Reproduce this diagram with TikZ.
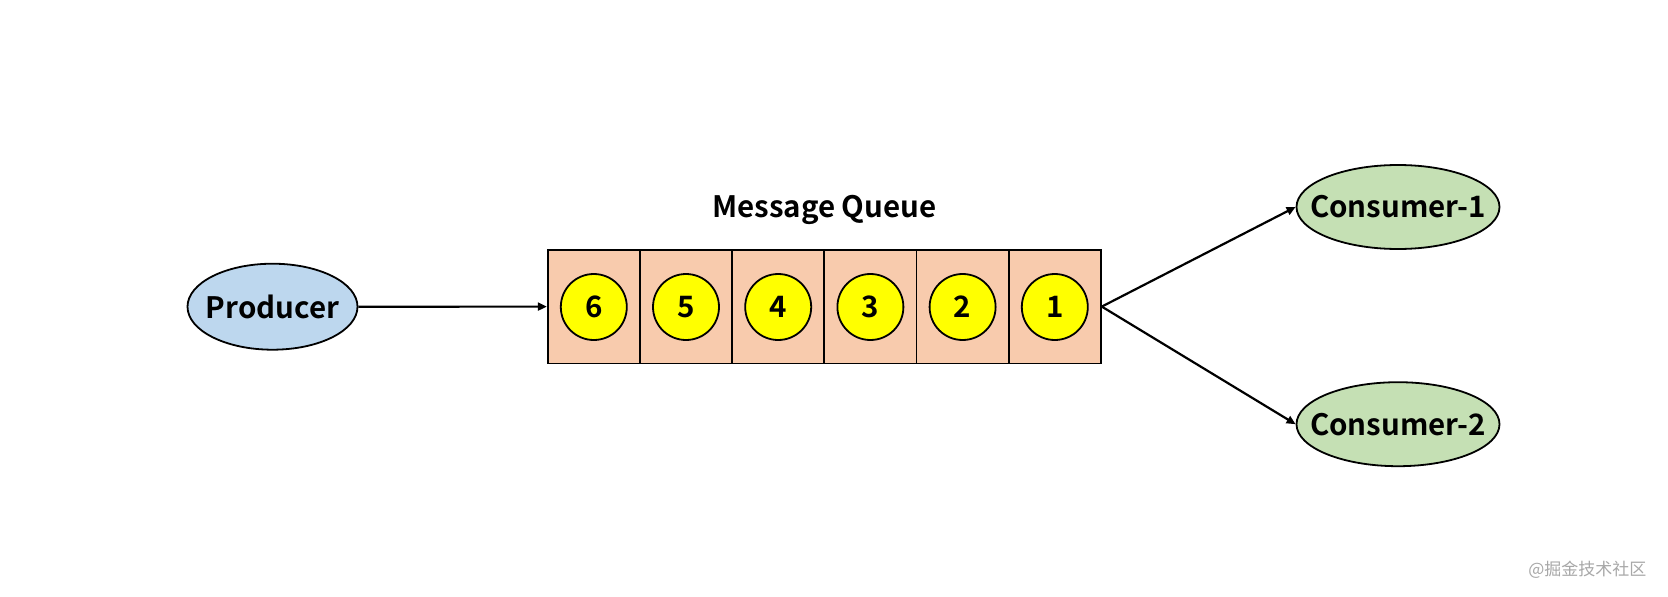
\documentclass[tikz,border=0pt]{standalone}
\usepackage{fontspec}
\setmainfont{Noto Sans CJK SC}[BoldFont={Noto Sans CJK SC Bold}]
\usetikzlibrary{shapes.geometric,arrows.meta}
\definecolor{prodblue}{HTML}{BDD7EE}
\definecolor{consgreen}{HTML}{C5E0B4}
\definecolor{qpeach}{HTML}{F8CBAD}
\definecolor{msgyellow}{HTML}{FFFF00}
\definecolor{wmgrey}{HTML}{A8A8A8}
\tikzset{
  lbl/.style={font=\fontsize{29.5}{34}\selectfont\bfseries},
  oval/.style={ellipse, draw=black, line width=1.8pt, inner sep=0pt, label={[lbl]center:#1}},
  cellbox/.style={rectangle, draw=black, line width=1.8pt, fill=qpeach, minimum width=92.2pt, minimum height=113.8pt, inner sep=0pt},
  msg/.style={circle, draw=black, line width=1.8pt, fill=msgyellow, minimum size=66pt, inner sep=0pt, lbl},
  conn/.style={line width=2.2pt, -{Triangle[length=9pt,width=8pt]}},
}
\begin{document}
\begin{tikzpicture}[x=1pt,y=-1pt]
\useasboundingbox[fill=white] (0,0) rectangle (1668,597);
\node[oval=Producer, fill=prodblue, minimum width=170pt, minimum height=86pt] (prod) at (272.5,306.7) {};
\foreach \i/\n in {0/6,1/5,2/4,3/3,4/2,5/1}{
  \node[cellbox] (cell\n) at ({547.7+46.1+92.2*\i},306.6) {};
  \node[msg] (m\n) at ({547.7+46.1+92.2*\i},307) {\n};
}
\node[lbl] (title) at (824.3,210) {Message Queue};
\node[oval=Consumer-1, fill=consgreen, minimum width=203pt, minimum height=84pt] (c1) at (1398,207) {};
\node[oval=Consumer-2, fill=consgreen, minimum width=203pt, minimum height=84pt] (c2) at (1398,424.2) {};
\coordinate (qin) at (cell6.west);
\coordinate (qout) at (cell1.east);
\draw[conn] (prod.east) -- (qin);
\draw[conn] (qout) -- (c1.west);
\draw[conn] (qout) -- (c2.west);
\node[text=wmgrey, font=\fontsize{17}{20}\selectfont, anchor=east] (wm) at (1650,570) {@掘金技术社区};
\end{tikzpicture}
\end{document}
